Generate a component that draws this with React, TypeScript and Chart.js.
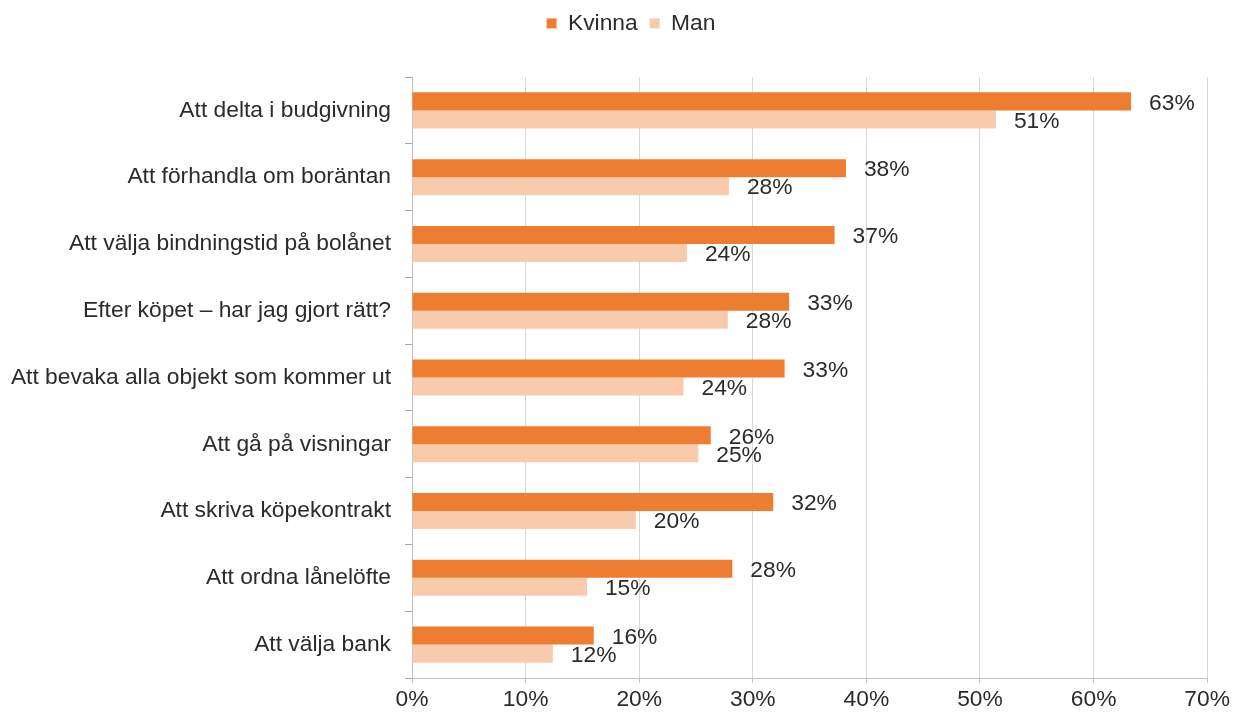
import React, { useEffect, useRef } from "react";
import { Chart, registerables } from "chart.js";

Chart.register(...registerables);

const categories = [
  "Att delta i budgivning",
  "Att förhandla om boräntan",
  "Att välja bindningstid på bolånet",
  "Efter köpet – har jag gjort rätt?",
  "Att bevaka alla objekt som kommer ut",
  "Att gå på visningar",
  "Att skriva köpekontrakt",
  "Att ordna lånelöfte",
  "Att välja bank",
];
const kvinna = [63.3, 38.2, 37.2, 33.2, 32.8, 26.3, 31.8, 28.2, 16.0];
const man = [51.4, 27.9, 24.2, 27.8, 23.9, 25.2, 19.7, 15.4, 12.4];
const seriesNames = ["Kvinna", "Man"];
const colors = ["#ED7D31", "#F8CBAD"];

const FONT = "'Liberation Sans', Arial, sans-serif";
const TEXT = "#2b2b2b";
const FS = 22.8;

const labelPlugin = {
  id: "valueLabels",
  afterDatasetsDraw(chart: any) {
    const ctx = chart.ctx;
    ctx.save();
    ctx.font = `${FS}px ${FONT}`;
    ctx.fillStyle = TEXT;
    ctx.textAlign = "left";
    ctx.textBaseline = "middle";
    chart.data.datasets.forEach((ds: any, di: number) => {
      const meta = chart.getDatasetMeta(di);
      meta.data.forEach((el: any, i: number) => {
        const v = ds.data[i];
        ctx.fillText(Math.round(v) + "%", el.x + 18, el.y + 2);
      });
    });
    ctx.restore();
  },
};

const legendHeightPlugin = {
  id: "legendHeight",
  beforeInit(chart: any) {
    const legend = chart.legend;
    if (!legend) return;
    const origFit = legend.fit;
    legend.fit = function () {
      origFit.call(this);
      this.height = 77;
    };
    const origDraw = legend.draw;
    legend.draw = function () {
      const ctx = this.ctx;
      ctx.save();
      ctx.translate(27, 0);
      origDraw.call(this);
      ctx.restore();
    };
  },
};

export default function App() {
  const ref = useRef<HTMLCanvasElement>(null);
  useEffect(() => {
    const chart = new Chart(ref.current!, {
      type: "bar",
      data: {
        labels: categories,
        datasets: [
          { label: seriesNames[0], data: kvinna, backgroundColor: colors[0], categoryPercentage: 0.54, barPercentage: 1 },
          { label: seriesNames[1], data: man, backgroundColor: colors[1], categoryPercentage: 0.54, barPercentage: 1 },
        ],
      },
      options: {
        indexAxis: "y",
        animation: false,
        responsive: false,
        maintainAspectRatio: false,
        layout: { padding: { left: 0, right: 25, top: 0, bottom: 0 } },
        plugins: {
          tooltip: { enabled: false },
          legend: {
            position: "top",
            labels: {
              boxWidth: 10,
              boxHeight: 10,
              padding: 12,
              color: TEXT,
              font: { size: FS, family: FONT },
            },
          },
        },
        scales: {
          x: {
            min: 0,
            max: 70,
            ticks: {
              stepSize: 10,
              color: TEXT,
              font: { size: FS, family: FONT },
              padding: 3,
              callback: (v: any) => v + "%",
            },
            grid: { color: "#D9D9D9", tickLength: 5, drawTicks: true, tickColor: "#BFBFBF" },
            border: { display: true, color: "#BFBFBF" },
            afterFit: (s: any) => { s.height = 713 - 678; },
          },
          y: {
            ticks: { color: TEXT, font: { size: FS, family: FONT }, padding: 14 },
            grid: { offset: true, drawOnChartArea: false, tickLength: 7, color: "#A6A6A6" },
            border: { display: true, color: "#BFBFBF" },
            afterFit: (s: any) => { s.width = 412; },
          },
        },
      },
      plugins: [legendHeightPlugin, labelPlugin],
    });
    return () => chart.destroy();
  }, []);
  return (
    <div style={{ position: "fixed", left: 0, top: 0, width: 1233, height: 713, background: "#fff" }}>
      <canvas ref={ref} width={1233} height={713} />
    </div>
  );
}
